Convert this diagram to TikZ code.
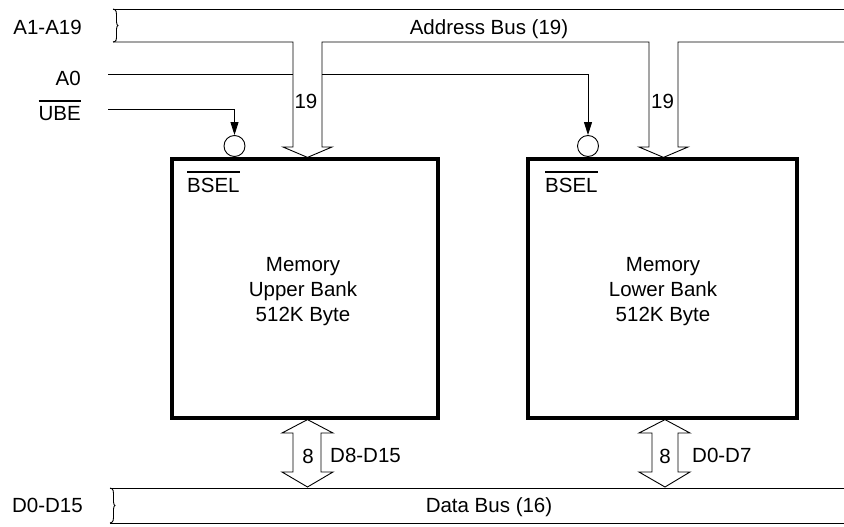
\documentclass[tikz,border=0pt]{standalone}
\usepackage{fontspec}
\setmainfont{Liberation Sans}
\usetikzlibrary{arrows.meta,calc}
\newcommand{\myovl}[1]{\setbox0=\hbox{#1}\rlap{\rule[0.95em]{\wd0}{0.065em}}\box0}
\begin{document}
\begin{tikzpicture}[x=1pt,y=-1pt,
  wire/.style={line width=0.9pt, draw=black},
  membox/.style={draw, line width=3.2pt, minimum height=259pt, inner sep=0pt},
  lbl/.style={font=\fontsize{20.5}{25}\selectfont, inner sep=0pt},
  bubble/.style={circle, draw, line width=0.9pt, minimum size=21pt, inner sep=0pt},
  ctrl/.style={wire, -{Triangle[length=13pt,width=8pt]}}]
\useasboundingbox (0,0) rectangle (844,527);

% memory boxes
\node[membox, minimum width=266pt] (upper) at (305,288.5) {};
\node[membox, minimum width=269pt] (lower) at (662.5,288.5) {};
\node[lbl, align=center] (uppertxt) at (303,292) {Memory\\Upper Bank\\512K Byte};
\node[lbl, align=center] (lowertxt) at (663,292) {Memory\\Lower Bank\\512K Byte};
\node[lbl, anchor=base west] (bselu) at (187,192) {\myovl{BSEL}};
\node[lbl, anchor=base west] (bsell) at (545,192) {\myovl{BSEL}};

% select bubbles
\node[bubble] (bubu) at (234.5,146) {};
\node[bubble] (bubl) at (588,146) {};

% left labels
\node[lbl, anchor=base east] (a119) at (82,35) {A1-A19};
\node[lbl, anchor=base east] (a0) at (81,86) {A0};
\node[lbl, anchor=base east] (ube) at (81,121) {\myovl{UBE}};
\node[lbl, anchor=base east] (d015) at (83,512) {D0-D15};

% bus labels
\node[lbl, anchor=base] (abus) at (489,35) {Address Bus (19)};
\node[lbl, anchor=base] (dbus) at (489,512) {Data Bus (16)};
\node[lbl, anchor=base] (n19u) at (306,108) {19};
\node[lbl, anchor=base] (n19l) at (662.5,108) {19};
\node[lbl, anchor=base] (n8u) at (308,463) {8};
\node[lbl, anchor=base] (n8l) at (665,463) {8};
\node[lbl, anchor=base west] (d815) at (330,462) {D8-D15};
\node[lbl, anchor=base west] (d07) at (692,462) {D0-D7};

% control wires
\coordinate (a0in) at (108,74);
\coordinate (a0gapl) at (293,74);
\coordinate (a0gapr) at (322,74);
\coordinate (ubein) at (108,109);
\draw[wire] (a0in) -- (a0gapl);
\draw[ctrl] (a0gapr) -| (bubl.north);
\draw[ctrl] (ubein) -| (bubu.north);

% address bus
\coordinate (tipU) at ($(upper.north)+(2.5,0)$);
\coordinate (tipL) at ($(lower.north)+(1,0)$);
\draw[wire] (113,9) -- (844,9);
\draw[wire] (113,9) .. controls (116.5,9.5) and (116.5,12) .. (116.5,17) -- (116.5,22)
  .. controls (116.5,24) and (117.5,25.5) .. (118,25.5)
  .. controls (117.5,25.5) and (116.5,27) .. (116.5,29) -- (116.5,35)
  .. controls (116.5,40) and (116.5,41.5) .. (113,42);
\draw[wire, line join=miter] (113,42) -- (293,42) -- (293,147) -- (283,147) -- (tipU)
  -- (332,147) -- (322,147) -- (322,42) -- (649,42) -- (649,147) -- (639,147)
  -- (tipL) -- (688,147) -- (678,147) -- (678,42) -- (844,42);

% data bus
\draw[wire] (110,488) -- (844,488);
\draw[wire] (110,523) -- (844,523);
\draw[wire] (110,488) .. controls (113.5,488.5) and (113.5,491) .. (113.5,496) -- (113.5,502)
  .. controls (113.5,504) and (114.5,505.5) .. (115,505.5)
  .. controls (114.5,505.5) and (113.5,507) .. (113.5,509) -- (113.5,515)
  .. controls (113.5,520) and (113.5,522.5) .. (110,523);

% data arrows
\coordinate (dtU) at ($(upper.south)+(2.5,0)$);
\coordinate (dbU) at (307.5,487);
\coordinate (dtL) at ($(lower.south)+(2.5,0)$);
\coordinate (dbL) at (665,487);
\draw[wire, line join=miter] (dtU) -- (333,433) -- (321,433) -- (321,472) -- (333,472) -- (dbU)
  -- (282,472) -- (293,472) -- (293,433) -- (282,433) -- cycle;
\draw[wire, line join=miter] (dtL) -- (690,433) -- (678,433) -- (678,472) -- (690,472) -- (dbL)
  -- (639,472) -- (652,472) -- (652,433) -- (639,433) -- cycle;
\end{tikzpicture}
\end{document}
